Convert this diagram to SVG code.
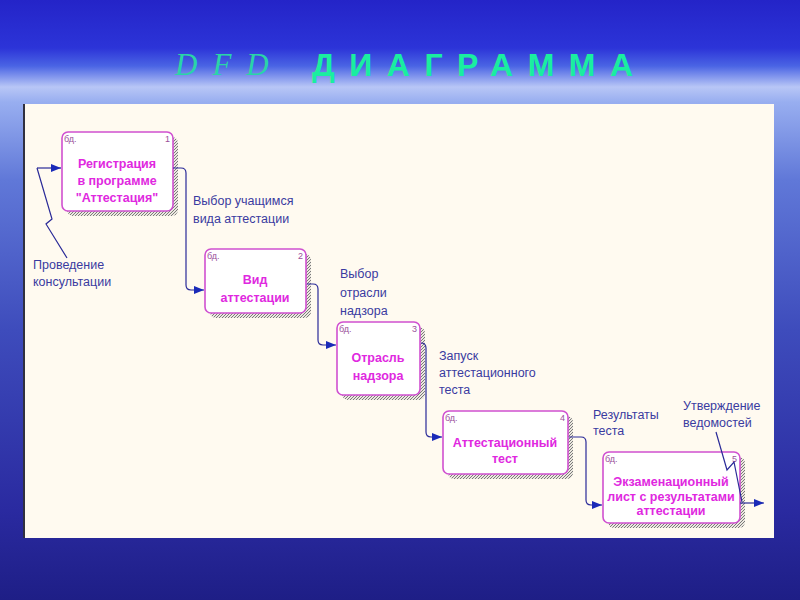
<svg xmlns="http://www.w3.org/2000/svg" width="800" height="600" viewBox="0 0 800 600">
<defs>
<linearGradient id="bg" x1="0" y1="0" x2="0" y2="1">
<stop offset="0" stop-color="#2424c8"/>
<stop offset="0.08" stop-color="#2c34d8"/>
<stop offset="0.11" stop-color="#4a64e4"/>
<stop offset="0.145" stop-color="#b8c6f6"/>
<stop offset="0.17" stop-color="#98aef0"/>
<stop offset="0.3" stop-color="#6078d8"/>
<stop offset="0.55" stop-color="#3e4cbc"/>
<stop offset="0.85" stop-color="#2a2aa0"/>
<stop offset="1" stop-color="#1e1e86"/>
</linearGradient>
<pattern id="hatch" width="3" height="3" patternUnits="userSpaceOnUse">
<rect width="3" height="3" fill="#ece8e0"/>
<path d="M0,3 L3,0" stroke="#7a7a7a" stroke-width="1"/>
</pattern>
<marker id="arr" markerWidth="10" markerHeight="8" refX="10" refY="4" orient="auto" markerUnits="userSpaceOnUse">
<path d="M0,0 L10,4 L0,8 Z" fill="#1a2ab8"/>
</marker>
<style>
.shadow{fill:url(#hatch);}
.box{fill:#ffffff;stroke:#d050d0;stroke-width:1.6;}
.t{font-family:"Liberation Sans",Arial,sans-serif;font-weight:bold;font-size:12.5px;fill:#e028e0;text-anchor:middle;}
.bd{font-family:"Liberation Sans",Arial,sans-serif;font-size:9px;fill:#9a509a;}
.num{font-family:"Liberation Sans",Arial,sans-serif;font-size:9px;fill:#9a509a;text-anchor:end;}
.lbl{font-family:"Liberation Sans",Arial,sans-serif;font-size:12.5px;fill:#3a3aa0;}
.ln{fill:none;stroke:#2a2a98;stroke-width:1.2;}
</style>
</defs>
<rect x="0" y="0" width="800" height="600" fill="url(#bg)"/>
<text x="175" y="75" font-family="'Liberation Serif',serif" font-style="italic" font-size="31" fill="#2ad4a8" letter-spacing="15">DFD</text>
<text x="312" y="76" font-family="'Liberation Sans',Arial,sans-serif" font-weight="bold" font-size="32" fill="#1aeea0" letter-spacing="14.5">ДИАГРАММА</text>
<rect x="23" y="104" width="751" height="434" fill="#fffaf0"/>
<line x1="24" y1="104" x2="24" y2="538" stroke="#303040" stroke-width="2"/>

<g id="node1">
<rect class="shadow" x="67" y="137" width="111" height="79" rx="6"/>
<rect class="box" x="62" y="132" width="111" height="79" rx="6"/>
<text class="bd" x="64" y="142">бд.</text>
<text class="num" x="170" y="142">1</text>
<text class="t" x="117" y="168">Регистрация</text>
<text class="t" x="117" y="185">в программе</text>
<text class="t" x="117" y="202">"Аттестация"</text>
</g>

<g id="node2">
<rect class="shadow" x="210" y="254" width="101" height="64" rx="6"/>
<rect class="box" x="205" y="249" width="101" height="64" rx="6"/>
<text class="bd" x="207" y="259">бд.</text>
<text class="num" x="303" y="259">2</text>
<text class="t" x="255" y="284">Вид</text>
<text class="t" x="255" y="302">аттестации</text>
</g>

<g id="node3">
<rect class="shadow" x="342" y="327" width="83" height="73" rx="6"/>
<rect class="box" x="337" y="322" width="83" height="73" rx="6"/>
<text class="bd" x="339" y="332">бд.</text>
<text class="num" x="417" y="332">3</text>
<text class="t" x="378" y="362">Отрасль</text>
<text class="t" x="378" y="380">надзора</text>
</g>

<g id="node4">
<rect class="shadow" x="448" y="416" width="125" height="63" rx="6"/>
<rect class="box" x="443" y="411" width="125" height="63" rx="6"/>
<text class="bd" x="445" y="421">бд.</text>
<text class="num" x="565" y="421">4</text>
<text class="t" x="505" y="447">Аттестационный</text>
<text class="t" x="505" y="463">тест</text>
</g>

<g id="node5">
<rect class="shadow" x="608" y="457" width="137" height="71" rx="6"/>
<rect class="box" x="603" y="452" width="137" height="71" rx="6"/>
<text class="bd" x="605" y="462">бд.</text>
<text class="num" x="737" y="462">5</text>
<text class="t" x="671" y="486">Экзаменационный</text>
<text class="t" x="671" y="501">лист с результатами</text>
<text class="t" x="671" y="515">аттестации</text>
</g>

<g id="connectors">
<path class="ln" d="M37,168 H61" marker-end="url(#arr)"/>
<path class="ln" d="M37,168 L52,219 L46,224 L67,258"/>
<path class="ln" d="M173,168 H181 Q186,168 186,173 V285 Q186,290 191,290 H204" marker-end="url(#arr)"/>
<path class="ln" d="M307,284 H313 Q318,284 318,289 V340 Q318,345 323,345 H336" marker-end="url(#arr)"/>
<path class="ln" d="M421,343 H421 Q426,343 426,348 V432 Q426,437 431,437 H442" marker-end="url(#arr)"/>
<path class="ln" d="M569,437 H581 Q586,437 586,442 V500 Q586,505 591,505 H602" marker-end="url(#arr)"/>
<path class="ln" d="M740,503 H764" marker-end="url(#arr)"/>
<path class="ln" d="M716,432 L727,470 L734,462 L742,502"/>
<text class="lbl" x="33" y="269">Проведение</text>
<text class="lbl" x="33" y="286">консультации</text>
<text class="lbl" x="193" y="205">Выбор учащимся</text>
<text class="lbl" x="193" y="223">вида аттестации</text>
<text class="lbl" x="340" y="278">Выбор</text>
<text class="lbl" x="340" y="297">отрасли</text>
<text class="lbl" x="340" y="315">надзора</text>
<text class="lbl" x="439" y="360">Запуск</text>
<text class="lbl" x="439" y="377">аттестационного</text>
<text class="lbl" x="439" y="394">теста</text>
<text class="lbl" x="593" y="419">Результаты</text>
<text class="lbl" x="593" y="435">теста</text>
<text class="lbl" x="683" y="410">Утверждение</text>
<text class="lbl" x="683" y="427">ведомостей</text>
</g>
</svg>
